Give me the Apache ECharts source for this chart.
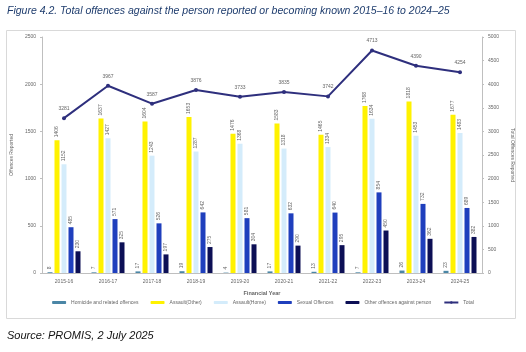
<!DOCTYPE html>
<html><head><meta charset="utf-8">
<script src="https://cdn.jsdelivr.net/npm/echarts@6/dist/echarts.min.js"></script>
<style>html,body{margin:0;padding:0;background:#fff}#c{width:526px;height:352px}</style>
</head><body><div id="c"></div>
<script>
const categories = ['2015-16','2016-17','2017-18','2018-19','2019-20','2020-21','2021-22','2022-23','2023-24','2024-25'];
const homicide = [8, 7, 17, 19, 4, 17, 13, 7, 26, 23];
const assaultOther = [1406, 1637, 1604, 1653, 1476, 1583, 1465, 1768, 1818, 1677];
const assaultHome = [1152, 1427, 1243, 1287, 1368, 1318, 1334, 1634, 1453, 1483];
const sexual = [485, 571, 526, 642, 581, 632, 640, 854, 732, 689];
const otherPerson = [230, 325, 197, 275, 304, 290, 295, 450, 362, 382];
const total = [3281, 3967, 3587, 3876, 3733, 3835, 3742, 4713, 4390, 4254];
const leftTicks = {min: 0, max: 2500, interval: 500};
const rightTicks = {min: 0, max: 5000, interval: 500};

const chart = echarts.init(document.getElementById('c'), null, {renderer: 'canvas'});
const barLabel = {show: true, position: 'top', rotate: 90, align: 'left', verticalAlign: 'middle', distance: 3, fontSize: 5, color: '#666', fontFamily: 'Liberation Sans'};
function bar(name, data, color) {
  return {name, type: 'bar', data, yAxisIndex: 0, barWidth: 5, barGap: '40%', barCategoryGap: '25%',
    itemStyle: {color}, label: barLabel};
}
const plain = v => String(v);
chart.setOption({
  animation: false,
  grid: {left: 42, right: 44, top: 37, bottom: 79},
  graphic: [
    {type: 'rect', shape: {x: 6.5, y: 30.5, width: 509, height: 288}, style: {fill: 'none', stroke: '#d9d9d9', lineWidth: 1}, z: -1},
    {type: 'text', left: 7, top: 6, style: {text: 'Figure 4.2. Total offences against the person reported or becoming known 2015–16 to 2024–25', font: 'italic 10.5px "Liberation Sans"', fill: '#1f3d6e'}},
    {type: 'text', left: 7, top: 330, style: {text: 'Source: PROMIS, 2 July 2025', font: 'italic 11px "Liberation Sans"', fill: '#111'}}
  ],
  legend: {bottom: 42, left: 'center', itemWidth: 14, itemHeight: 3, itemGap: 12,
    textStyle: {fontSize: 5, color: '#666', fontFamily: 'Liberation Sans'},
    data: ['Homicide and related offences','Assault(Other)','Assault(Home)','Sexual Offences','Other offences against person','Total']},
  xAxis: {type: 'category', data: categories, name: 'Financial Year', nameLocation: 'middle', nameGap: 17,
    nameTextStyle: {fontSize: 5.5, color: '#666', fontWeight: 'bold'},
    axisLine: {lineStyle: {color: '#bfbfbf'}}, axisTick: {show: false},
    axisLabel: {fontSize: 5, color: '#666', margin: 6}},
  yAxis: [
    {type: 'value', min: leftTicks.min, max: leftTicks.max, interval: leftTicks.interval, name: 'Offences Reported',
      nameLocation: 'middle', nameGap: 16, nameTextStyle: {fontSize: 5, color: '#666'},
      axisLine: {show: true, lineStyle: {color: '#bfbfbf'}}, axisTick: {show: true, length: 2}, splitLine: {show: false},
      axisLabel: {fontSize: 5, color: '#666', margin: 6, formatter: plain}},
    {type: 'value', min: rightTicks.min, max: rightTicks.max, interval: rightTicks.interval, name: 'Total Offences Reported',
      nameLocation: 'middle', nameGap: 22, nameRotate: -90, nameTextStyle: {fontSize: 5, color: '#666'},
      axisLine: {show: true, lineStyle: {color: '#bfbfbf'}}, axisTick: {show: true, length: 2}, splitLine: {show: false},
      axisLabel: {fontSize: 5, color: '#666', margin: 6, formatter: plain}}
  ],
  series: [
    bar('Homicide and related offences', homicide, '#4a86a6'),
    bar('Assault(Other)', assaultOther, '#fff200'),
    bar('Assault(Home)', assaultHome, '#d4ecfb'),
    bar('Sexual Offences', sexual, '#1f3fbd'),
    bar('Other offences against person', otherPerson, '#0c0f55'),
    {name: 'Total', type: 'line', yAxisIndex: 1, data: total, symbol: 'circle', symbolSize: 4,
      lineStyle: {color: '#2e2f7d', width: 2}, itemStyle: {color: '#2e2f7d'},
      label: {show: true, position: 'top', distance: 5, fontSize: 5, color: '#666', fontFamily: 'Liberation Sans'}}
  ]
});
</script></body></html>
